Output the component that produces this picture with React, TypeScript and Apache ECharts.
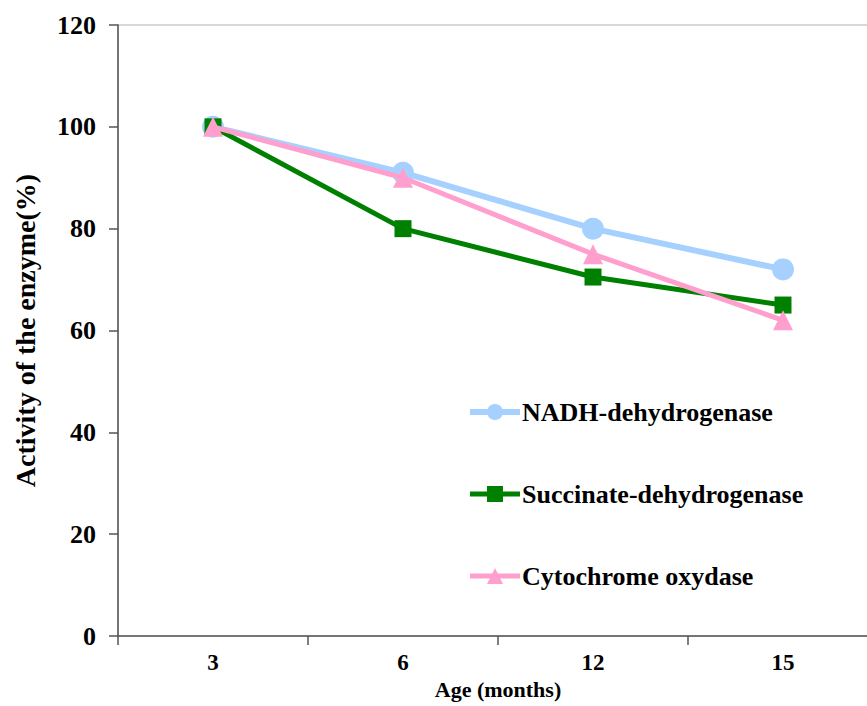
import React, { useEffect, useRef } from "react";
import * as echarts from "echarts";

const ages = ["3", "6", "12", "15"];
const nadh = [100, 91, 80, 72];
const succinate = [100, 80, 70.5, 65];
const cytochrome = [100, 90, 75, 62];
const yMin = 0;
const yMax = 120;
const yStep = 20;

const FONT = "'Liberation Serif', 'Times New Roman', serif";

export default function App() {
  const ref = useRef<HTMLDivElement>(null);
  useEffect(() => {
    if (!ref.current) return;
    const chart = echarts.init(ref.current, undefined, { renderer: "svg" });
    const textStyle = { fontFamily: FONT, fontWeight: "bold" as const, color: "#000" };
    chart.setOption({
      animation: false,
      backgroundColor: "#fff",
      grid: {
        left: 118,
        width: 760,
        top: 25,
        bottom: 70,
        outerBoundsMode: "none",
        containLabel: false,
        show: true,
        borderColor: "#b0b0b0",
        borderWidth: 1,
      },
      legend: {
        orient: "vertical",
        left: 467,
        top: 399,
        padding: 0,
        itemWidth: 50,
        itemHeight: 20,
        itemGap: 56,
        lineStyle: { width: "inherit" },
        textStyle: { ...textStyle, fontSize: 26, padding: [0, 0, 0, -3] },
        data: ["NADH-dehydrogenase", "Succinate-dehydrogenase", "Cytochrome oxydase"],
      },
      xAxis: {
        type: "category",
        data: ages,
        boundaryGap: true,
        name: "Age (months)",
        nameLocation: "middle",
        nameGap: 41,
        nameTextStyle: { ...textStyle, fontSize: 22 },
        axisLine: { lineStyle: { color: "#555", width: 1.5 } },
        axisTick: { show: true, length: 9, lineStyle: { color: "#555", width: 1.5 } },
        axisLabel: { ...textStyle, fontSize: 23, margin: 15 },
        splitLine: { show: false },
      },
      yAxis: {
        type: "value",
        min: yMin,
        max: yMax,
        interval: yStep,
        name: "Activity of the enzyme(%)",
        nameLocation: "middle",
        nameGap: 79,
        nameTextStyle: { ...textStyle, fontSize: 28 },
        axisLine: { show: true, lineStyle: { color: "#555", width: 1.5 } },
        axisTick: { show: true, length: 9, lineStyle: { color: "#555", width: 1.5 } },
        axisLabel: { ...textStyle, fontSize: 26, margin: 22 },
        splitLine: { show: false },
      },
      series: [
        {
          name: "NADH-dehydrogenase",
          type: "line",
          data: nadh,
          symbol: "circle",
          symbolSize: 22,
          lineStyle: { color: "#a6d1ff", width: 6 },
          itemStyle: { color: "#a6d1ff" },
          z: 1,
        },
        {
          name: "Succinate-dehydrogenase",
          type: "line",
          data: succinate,
          symbol: "rect",
          symbolSize: 17,
          lineStyle: { color: "#008000", width: 5 },
          itemStyle: { color: "#008000" },
          z: 2,
        },
        {
          name: "Cytochrome oxydase",
          type: "line",
          data: cytochrome,
          symbol: "triangle",
          symbolSize: 20,
          lineStyle: { color: "#ff9fce", width: 5 },
          itemStyle: { color: "#ff9fce" },
          z: 3,
        },
      ],
    });
    return () => chart.dispose();
  }, []);
  return <div ref={ref} style={{ width: 867, height: 706, position: "absolute", left: 0, top: 0 }} />;
}
